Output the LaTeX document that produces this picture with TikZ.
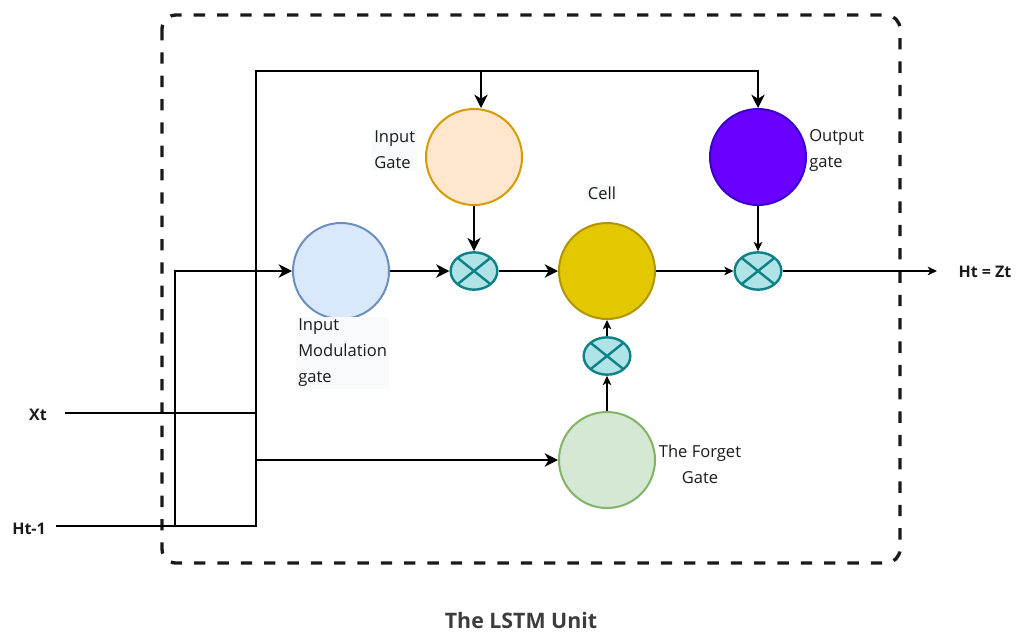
\documentclass[tikz,border=0pt]{standalone}
\usepackage{fontspec}
\setmainfont{Open Sans}
\usetikzlibrary{arrows.meta,shapes.geometric}

\definecolor{modfill}{HTML}{DAE8FC}
\definecolor{modline}{HTML}{6C8EBF}
\definecolor{igfill}{HTML}{FFE6CC}
\definecolor{igline}{HTML}{D79B00}
\definecolor{cellfill}{HTML}{E3C800}
\definecolor{cellline}{HTML}{B09500}
\definecolor{ogfill}{HTML}{6A00FF}
\definecolor{ogline}{HTML}{3700CC}
\definecolor{fgfill}{HTML}{D5E8D4}
\definecolor{fgline}{HTML}{82B366}
\definecolor{multfill}{HTML}{B0E3E6}
\definecolor{multline}{HTML}{0E8088}
\definecolor{labelbg}{HTML}{F9FAFB}
\definecolor{ink}{HTML}{1A1A1A}

\begin{document}
\begin{tikzpicture}[
  x=0.75pt, y=-0.75pt,
  gate/.style={circle, draw, line width=1.5pt, minimum size=72pt, inner sep=0pt},
  mult/.style={ellipse, draw=multline, fill=multfill, line width=1.8pt,
    minimum width=35pt, minimum height=28pt, inner sep=0pt,
    path picture={\draw[multline, line width=1.8pt]
      (path picture bounding box.north west) -- (path picture bounding box.south east)
      (path picture bounding box.north east) -- (path picture bounding box.south west);}},
  conn/.style={line width=1.2pt, draw=black},
  bigtip/.style={-{Stealth[length=10pt,width=10pt,inset=3pt]}},
  smalltip/.style={-{Stealth[length=7pt,width=6.5pt,inset=2pt]}},
  lbl/.style={font=\fontsize{12.4}{19.5}\selectfont, text=ink, inner sep=1.5pt, align=left},
  lblbg/.style={lbl, fill=labelbg},
  io/.style={font=\fontsize{12}{14}\selectfont\bfseries, text=ink, inner sep=0pt},
  unitbox/.style={draw=ink, line width=2.5pt, dash pattern=on 8.5pt off 9pt, rounded corners=10.5pt}
]
\useasboundingbox (0,0) rectangle (1019,633);

% enclosing unit
\draw[unitbox] (162,15) rectangle (900,563);

% gates and cell
\node[gate, fill=modfill, draw=modline] (mg) at (341,271) {};
\node[gate, fill=igfill, draw=igline] (ig) at (474,157) {};
\node[gate, fill=cellfill, draw=cellline] (cell) at (607,271) {};
\node[gate, fill=ogfill, draw=ogline] (og) at (758,157) {};
\node[gate, fill=fgfill, draw=fgline] (fg) at (607,460) {};

% pointwise multiplications
\node[mult] (m1) at (474,271) {};
\node[mult] (m2) at (607,356) {};
\node[mult] (m3) at (758,271) {};

% routing points
\coordinate (xt) at (65,413);
\coordinate (xtj) at (256,413);
\coordinate (ht) at (56,526);
\coordinate (htj) at (256,526);
\coordinate (top) at (256,71);
\coordinate (topi) at (481,71);
\coordinate (lowj) at (175,526);
\coordinate (lowc) at (175,271);
\coordinate (fgj) at (256,460);
\coordinate (out) at (937,271);

% inputs
\draw[conn] (xt) -- (xtj);
\draw[conn, bigtip] (ht) -- (htj) -- (top) -| (og.north);
\draw[conn, bigtip] (topi) -- (topi |- ig.north);
\draw[conn, bigtip] (lowj) -- (lowc) -- (mg.west);
\draw[conn, bigtip] (fgj) -- (fg.west);

% internal flow
\draw[conn, bigtip] (mg.east) -- (m1.west);
\draw[conn, bigtip] (ig.south) -- (m1.north);
\draw[conn, bigtip] (m1.east) -- (cell.west);
\draw[conn, smalltip] (fg.north) -- (m2.south);
\draw[conn, smalltip] (m2.north) -- (cell.south);
\draw[conn, smalltip] (cell.east) -- (m3.west);
\draw[conn, smalltip] (og.south) -- (m3.north);
\draw[conn, smalltip] (m3.east) -- (out);

% labels
\node[lblbg, anchor=west] (ltxt-ig) at (372,150) {Input\\Gate};
\node[lblbg, anchor=west] (ltxt-mg) at (296,353) {Input\\Modulation\\gate};
\node[lblbg] (ltxt-cell) at (602,193) {Cell};
\node[lbl, anchor=west] (ltxt-og) at (807,150) {Output\\gate};
\node[lbl, align=center] (ltxt-fg) at (700,464) {The Forget\\Gate};

\node[io] (txt-xt) at (38,415) {Xt};
\node[io] (txt-ht) at (29,529) {Ht-1};
\node[io] (txt-out) at (985,272) {Ht = Zt};
\node[font=\fontsize{16}{19}\selectfont\bfseries, text=ink!85!white, inner sep=0pt] (title) at (521,620) {The LSTM Unit};
\end{tikzpicture}
\end{document}
